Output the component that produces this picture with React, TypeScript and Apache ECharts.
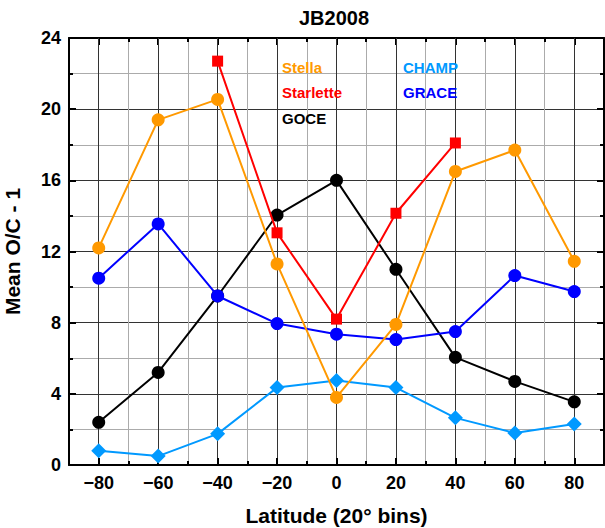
import React, { useEffect, useRef } from "react";
import * as echarts from "echarts";

// Axis categories (10-degree steps; labelled/major every 20 degrees)
const latitudeBins = ["-90", "-80", "-70", "-60", "-50", "-40", "-30", "-20", "-10", "0", "10", "20", "30", "40", "50", "60", "70", "80", "90"];

// Bin centres
const latitudes = ["-80", "-60", "-40", "-20", "0", "20", "40", "60", "80"];
const starletteLatitudes = ["-40", "-20", "0", "20", "40"];

// Series values (Mean O/C - 1)
const stella = [12.2, 19.4, 20.55, 11.3, 3.8, 7.9, 16.5, 17.7, 11.45];
const starlette = [22.7, 13.05, 8.2, 14.15, 18.1];
const goce = [2.4, 5.2, 9.5, 14.05, 16.0, 11.0, 6.05, 4.7, 3.55];
const grace = [10.5, 13.55, 9.5, 7.95, 7.35, 7.05, 7.5, 10.65, 9.75];
const champ = [0.8, 0.5, 1.75, 4.35, 4.75, 4.35, 2.65, 1.8, 2.3];

const FONT = "'Liberation Sans', Arial, Helvetica, sans-serif";
const MAJOR = "#333333";
const MINOR = "#ababab";

const isMajor = (i: number) => i % 2 === 1;
const fmtLat = (v: string) => {
  if (v === "-90" || v === "90") return "";
  return v.startsWith("-") ? "\u2212" + v.slice(1) : v;
};

export default function App() {
  const ref = useRef<HTMLDivElement>(null);

  useEffect(() => {
    document.body.style.margin = "0";
    const chart = echarts.init(ref.current!, null, { renderer: "svg" });

    const pair = (lats: string[], vals: number[]) => lats.map((l, i) => [l, vals[i]]);

    const baseCat = {
      type: "category" as const,
      data: latitudeBins,
      boundaryGap: false,
    };

    const option: any = {
      animation: false,
      backgroundColor: "#ffffff",
      textStyle: { fontFamily: FONT },
      title: {
        text: "JB2008",
        left: 299,
        top: 8,
        padding: 0,
        textStyle: { fontFamily: FONT, fontSize: 20, fontWeight: "bold", color: "#000" },
      },
      legend: [
        {
          left: 277,
          top: 59,
          padding: 0,
          orient: "vertical",
          icon: "none",
          itemWidth: 0,
          itemHeight: 16,
          itemGap: 10,
          selectedMode: false,
          textStyle: { fontFamily: FONT, fontSize: 15, fontWeight: "bold" },
          data: [
            { name: "Stella", textStyle: { color: "#FF9900" } },
            { name: "Starlette", textStyle: { color: "#FF0000" } },
            { name: "GOCE", textStyle: { color: "#000000" } },
          ],
        },
        {
          left: 398,
          top: 59,
          padding: 0,
          orient: "vertical",
          icon: "none",
          itemWidth: 0,
          itemHeight: 16,
          itemGap: 10,
          selectedMode: false,
          textStyle: { fontFamily: FONT, fontSize: 15, fontWeight: "bold" },
          data: [
            { name: "CHAMP", textStyle: { color: "#0099FF" } },
            { name: "GRACE", textStyle: { color: "#0000FF" } },
          ],
        },
      ],
      grid: { left: 69, right: 1, top: 38, bottom: 63, containLabel: false, outerBoundsMode: "none" },
      xAxis: [
        {
          ...baseCat,
          position: "bottom",
          name: "Latitude (20\u00b0 bins)",
          nameLocation: "middle",
          nameGap: 40,
          nameTextStyle: { fontFamily: FONT, fontSize: 21, fontWeight: "bold", color: "#000" },
          axisLine: { show: true, lineStyle: { color: "#000", width: 2 } },
          axisTick: { show: true, inside: true, length: 7, interval: (i: number) => isMajor(i), lineStyle: { color: "#000", width: 2 } },
          axisLabel: {
            interval: (i: number) => isMajor(i),
            formatter: fmtLat,
            margin: 9,
            fontFamily: FONT,
            fontSize: 18,
            fontWeight: "bold",
            color: "#000",
          },
          splitLine: { show: true, interval: (i: number) => isMajor(i), lineStyle: { color: MAJOR, width: 1 } },
          z: 3,
        },
        {
          ...baseCat,
          position: "bottom",
          axisLine: { show: false },
          axisTick: { show: true, inside: true, length: 4, interval: 0, lineStyle: { color: "#000", width: 2 } },
          axisLabel: { show: false },
          splitLine: { show: true, interval: (i: number) => !isMajor(i), lineStyle: { color: MINOR, width: 1 } },
        },
        {
          ...baseCat,
          position: "top",
          axisLine: { show: true, lineStyle: { color: "#000", width: 2 } },
          axisTick: { show: true, inside: true, length: 7, interval: (i: number) => isMajor(i), lineStyle: { color: "#000", width: 2 } },
          axisLabel: { show: false },
          splitLine: { show: false },
        },
        {
          ...baseCat,
          position: "top",
          axisLine: { show: false },
          axisTick: { show: true, inside: true, length: 4, interval: 0, lineStyle: { color: "#000", width: 2 } },
          axisLabel: { show: false },
          splitLine: { show: false },
        },
      ],
      yAxis: [
        {
          type: "value",
          position: "left",
          min: 0,
          max: 24,
          interval: 4,
          name: "Mean O/C - 1",
          nameLocation: "middle",
          nameGap: 46,
          nameRotate: 90,
          nameTextStyle: { fontFamily: FONT, fontSize: 21, fontWeight: "bold", color: "#000" },
          axisLine: { show: true, lineStyle: { color: "#000", width: 2 } },
          axisTick: { show: true, inside: true, length: 7, lineStyle: { color: "#000", width: 2 } },
          minorTick: { show: true, splitNumber: 2, length: 4, lineStyle: { color: "#000", width: 2 } },
          axisLabel: { margin: 8, fontFamily: FONT, fontSize: 18, fontWeight: "bold", color: "#000" },
          splitLine: { show: true, lineStyle: { color: MAJOR, width: 1 } },
          minorSplitLine: { show: true, lineStyle: { color: MINOR, width: 1 } },
        },
        {
          type: "value",
          position: "right",
          min: 0,
          max: 24,
          interval: 4,
          axisLine: { show: true, lineStyle: { color: "#000", width: 2 } },
          axisTick: { show: true, inside: true, length: 7, lineStyle: { color: "#000", width: 2 } },
          minorTick: { show: true, splitNumber: 2, length: 4, lineStyle: { color: "#000", width: 2 } },
          axisLabel: { show: false },
          splitLine: { show: false },
          minorSplitLine: { show: false },
        },
      ],
      series: [
        {
          name: "GOCE",
          type: "line",
          data: pair(latitudes, goce),
          symbol: "circle",
          symbolSize: 13,
          color: "#000000",
          lineStyle: { width: 2 },
          z: 3,
        },
        {
          name: "GRACE",
          type: "line",
          data: pair(latitudes, grace),
          symbol: "circle",
          symbolSize: 13,
          color: "#0000FF",
          lineStyle: { width: 2 },
          z: 4,
        },
        {
          name: "CHAMP",
          type: "line",
          data: pair(latitudes, champ),
          symbol: "diamond",
          symbolSize: 15,
          color: "#0099FF",
          lineStyle: { width: 2 },
          z: 4,
        },
        {
          name: "Stella",
          type: "line",
          data: pair(latitudes, stella),
          symbol: "circle",
          symbolSize: 13,
          color: "#FF9900",
          lineStyle: { width: 2 },
          z: 5,
        },
        {
          name: "Starlette",
          type: "line",
          data: pair(starletteLatitudes, starlette),
          symbol: "rect",
          symbolSize: 11,
          color: "#FF0000",
          lineStyle: { width: 2 },
          z: 5,
        },
      ],
    };

    chart.setOption(option);
    return () => chart.dispose();
  }, []);

  return <div ref={ref} style={{ width: 605, height: 528 }} />;
}
